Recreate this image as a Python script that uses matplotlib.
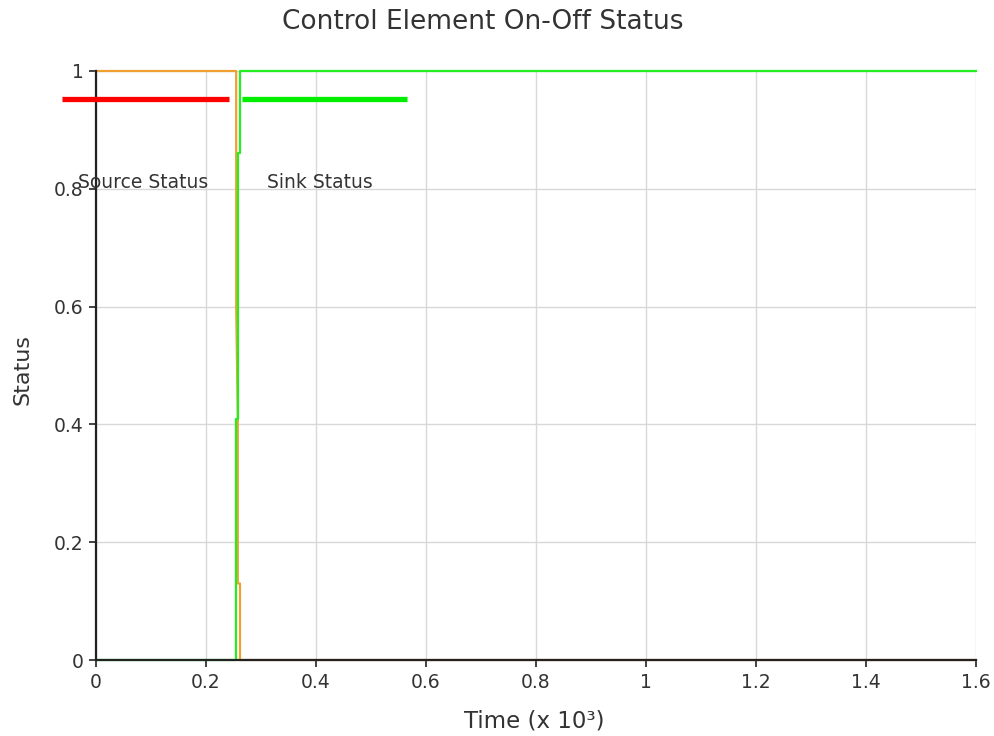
import matplotlib
matplotlib.use("Agg")
import matplotlib.pyplot as plt
from matplotlib.lines import Line2D

# time in thousands of seconds, status 0..1
source_time = [0.0, 0.2549, 0.2549, 0.2578, 0.2578, 0.2618, 0.2618, 1.6]
source_status = [1.0, 1.0, 0.60, 0.41, 0.13, 0.13, 0.0, 0.0]
sink_time = [0.0, 0.2545, 0.2545, 0.2582, 0.2582, 0.2618, 0.2618, 1.6]
sink_status = [0.0, 0.0, 0.41, 0.41, 0.86, 0.86, 1.0, 1.0]

x_ticks = [0, 0.2, 0.4, 0.6, 0.8, 1.0, 1.2, 1.4, 1.6]
x_tick_labels = ["0", "0.2", "0.4", "0.6", "0.8", "1", "1.2", "1.4", "1.6"]
y_ticks = [0, 0.2, 0.4, 0.6, 0.8, 1.0]
y_tick_labels = ["0", "0.2", "0.4", "0.6", "0.8", "1"]

W, H = 994, 736
TEXT = "#333333"

fig = plt.figure(figsize=(W / 100, H / 100), dpi=100)
ax = fig.add_axes([96 / W, 1 - 660 / H, 880 / W, 589 / H])

ax.plot(source_time, source_status, color="#f0a030", linewidth=1.6, zorder=3, clip_on=False)
ax.plot(sink_time, sink_status, color="#22ee22", linewidth=1.6, zorder=4, clip_on=False)

ax.set_xlim(0, 1.6)
ax.set_ylim(0, 1.0)
ax.set_xticks(x_ticks)
ax.set_xticklabels(x_tick_labels)
ax.set_yticks(y_ticks)
ax.set_yticklabels(y_tick_labels)
ax.tick_params(labelsize=13.5, length=5, width=1.2, pad=4, color="#222222", labelcolor=TEXT)
ax.grid(True, color="#d8d8d8", linewidth=1.0)
ax.set_axisbelow(True)
for side in ("top", "right"):
    ax.spines[side].set_visible(False)
for side in ("left", "bottom"):
    ax.spines[side].set_color("#222222")
    ax.spines[side].set_linewidth(1.6)
    ax.spines[side].set_zorder(5)

fig.text(483 / W, 1 - 22 / H, "Control Element On-Off Status", fontsize=19,
         ha="center", va="center", color=TEXT)
fig.text(534 / W, 1 - 721 / H, "Time (x 10³)", fontsize=16.5, ha="center", va="center", color=TEXT)
fig.text(22 / W, 1 - 370 / H, "Status", fontsize=16, rotation=90, ha="center", va="center", color=TEXT)

# odd legend: thick swatches at top, names lower down
legend_items = [("Source Status", "#ff0000", 62, 229, 143), ("Sink Status", "#00ee00", 242, 407, 320)]
for name, color, x0, x1, xt in legend_items:
    fig.add_artist(Line2D([x0 / W, x1 / W], [1 - 99 / H, 1 - 99 / H], color=color, linewidth=3.8,
                          solid_capstyle="butt", transform=fig.transFigure, zorder=6))
    fig.text(xt / W, 1 - 182 / H, name, fontsize=13.5, ha="center", va="center", color=TEXT, zorder=6)

fig.savefig("out.png", dpi=100)
